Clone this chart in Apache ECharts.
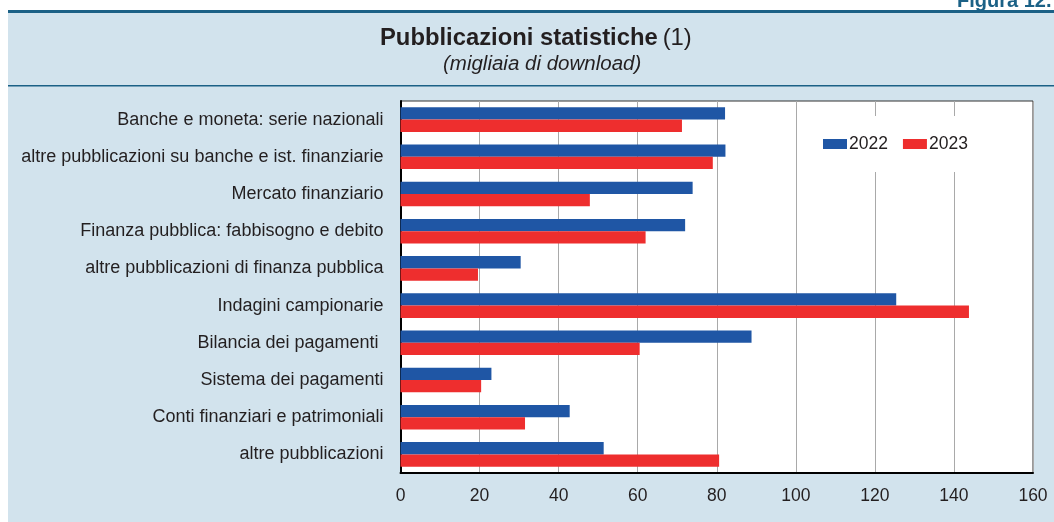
<!DOCTYPE html>
<html>
<head>
<meta charset="utf-8">
<script src="https://cdn.jsdelivr.net/npm/echarts@6/dist/echarts.min.js"></script>
<style>
    html, body { margin: 0; padding: 0; background: #ffffff; }
    #chart { width: 1054px; height: 522px; }
</style>
</head>
<body>
<div id="chart"></div>
<script>
// categorie (dall'alto in basso)
const categories = [
    'Banche e moneta: serie nazionali',
    'altre pubblicazioni su banche e ist. finanziarie',
    'Mercato finanziario',
    'Finanza pubblica: fabbisogno e debito',
    'altre pubblicazioni di finanza pubblica',
    'Indagini campionarie',
    'Bilancia dei pagamenti ',
    'Sistema dei pagamenti',
    'Conti finanziari e patrimoniali',
    'altre pubblicazioni',
]
const values2022 = [82.1, 82.2, 73.9, 72.0, 30.4, 125.4, 88.8, 23.0, 42.8, 51.4]
const values2023 = [71.2, 79.0, 47.9, 62.0, 19.6, 143.8, 60.5, 20.4, 31.5, 80.6]
const xTicks = [0, 20, 40, 60, 80, 100, 120, 140, 160]

const panelColor = '#d2e3ed'
const lineColor = '#1b6186'
const textColor = '#231f20'
const font = 'Liberation Sans, Arial, Helvetica, sans-serif'

const chart = echarts.init(document.getElementById('chart'))
const option = {
    backgroundColor: '#ffffff',
    textStyle: { fontFamily: font },
    graphic: [
        { type: 'rect', z: -10, shape: { x: 8, y: 12, width: 1046, height: 510 }, style: { fill: panelColor } },
        { type: 'rect', z: -9, shape: { x: 8, y: 10, width: 1046, height: 3 }, style: { fill: lineColor } },
        { type: 'rect', z: -9, shape: { x: 8, y: 85, width: 1046, height: 1.5 }, style: { fill: lineColor } },
        {
            type: 'text', z: -9, left: 957, top: -9,
            style: { text: 'Figura 12.', fill: lineColor, font: 'bold 20px ' + font },
        },
    ],
    title: [
        {
            text: '{b|Pubblicazioni statistiche} {n|(1)}',
            left: 380,
            top: 26,
            padding: 0,
            textStyle: {
                rich: {
                    b: { fontSize: 23.8, fontWeight: 'bold', color: textColor, fontFamily: font },
                    n: { fontSize: 23.8, fontWeight: 'normal', color: textColor, fontFamily: font },
                },
            },
        },
        {
            text: '(migliaia di download)',
            left: 443,
            top: 54,
            padding: 0,
            textStyle: { fontSize: 20.5, fontStyle: 'italic', fontWeight: 'normal', color: textColor, fontFamily: font },
        },
    ],
    legend: {
        data: ['2022', '2023'],
        left: 801,
        top: 116,
        padding: [19, 20, 19, 22],
        backgroundColor: '#ffffff',
        itemWidth: 24,
        itemHeight: 10,
        itemGap: 15,
        icon: 'rect',
        textStyle: { fontSize: 17.5, color: textColor, padding: [0, 0, 0, -3] },
    },
    grid: {
        left: 400.5,
        right: 21,
        top: 101,
        bottom: 49,
        show: true,
        backgroundColor: '#ffffff',
        borderColor: '#333333',
        borderWidth: 1,
    },
    xAxis: {
        type: 'value',
        min: xTicks[0],
        max: xTicks[xTicks.length - 1],
        interval: 20,
        axisLine: { show: true, lineStyle: { color: '#000000', width: 2 } },
        axisTick: { show: false },
        axisLabel: { fontSize: 17.5, color: textColor, margin: 14 },
        splitLine: { lineStyle: { color: '#a9a9a9', width: 1 } },
    },
    yAxis: {
        type: 'category',
        data: categories,
        inverse: true,
        axisLine: { show: true, lineStyle: { color: '#000000', width: 2 } },
        axisTick: { show: false },
        axisLabel: { fontSize: 18, color: textColor, margin: 17 },
        splitLine: { show: false },
    },
    series: [
        {
            name: '2022',
            type: 'bar',
            data: values2022,
            barGap: '0%',
            barCategoryGap: '34%',
            itemStyle: { color: '#1f56a5' },
        },
        {
            name: '2023',
            type: 'bar',
            data: values2023,
            barGap: '0%',
            barCategoryGap: '34%',
            itemStyle: { color: '#ee2e2e' },
        },
    ],
}
chart.setOption(option)
</script>
</body>
</html>
